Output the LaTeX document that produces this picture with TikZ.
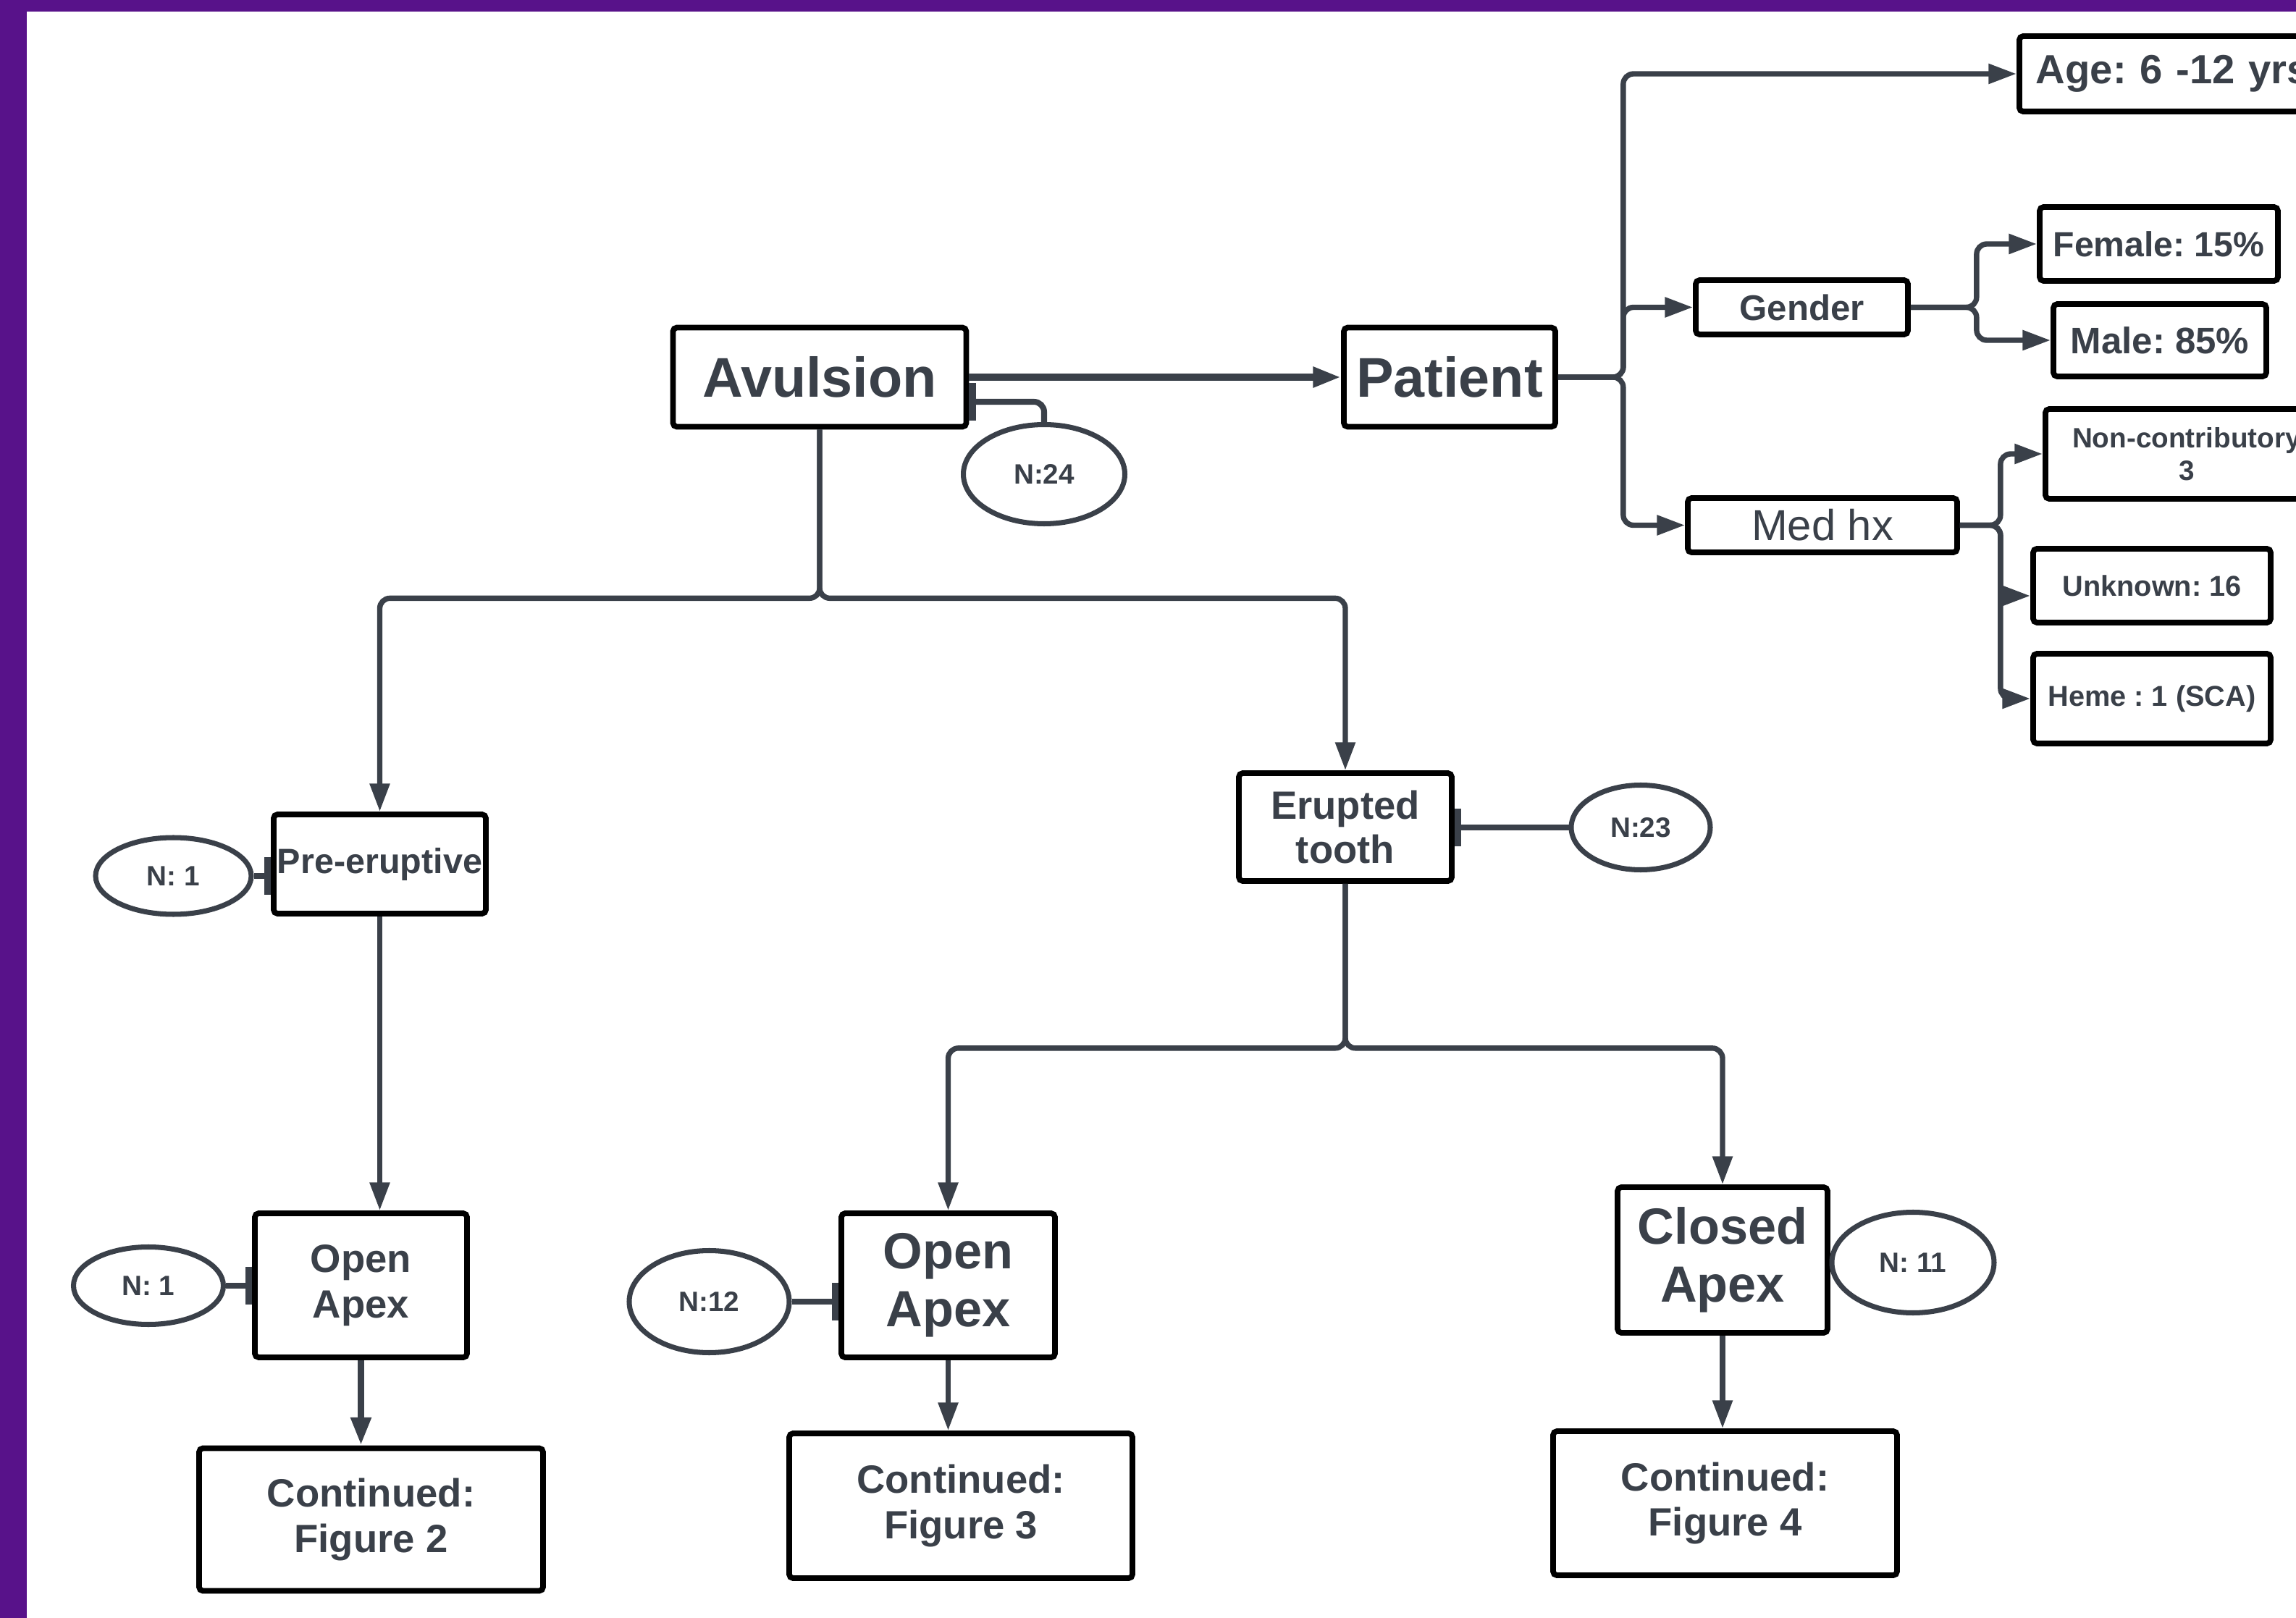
\documentclass[tikz,border=0pt]{standalone}
\usepackage{fontspec}
\setmainfont{Liberation Sans}
\usetikzlibrary{arrows.meta,shapes.geometric}
\definecolor{framepurple}{HTML}{58128A}
\definecolor{inkgray}{HTML}{3A4049}
\newcommand{\fsz}[2]{\fontsize{#1}{#2}\selectfont}
\frenchspacing

\begin{document}
\begin{tikzpicture}[
    box/.style={draw=black, line width=2.2pt, rounded corners=1.5pt, fill=white, text=inkgray, align=center, inner sep=0pt},
    count/.style={ellipse, draw=inkgray, line width=2pt, fill=white, text=inkgray, inner sep=0pt, font=\fsz{11pt}{13pt}\bfseries},
    link/.style={draw=inkgray, line width=2.1pt, rounded corners=4pt, -{Triangle[length=11pt,width=7.5pt]}},
    tee/.style={draw=inkgray, line width=2.3pt, rounded corners=4pt, -{Bar[width=15pt,line width=2.6pt]}},
]
    \useasboundingbox (0,0) rectangle (31.71,-22.35);
    \fill[white] (0,0) rectangle (31.71,-22.35);
    \fill[framepurple] (0,0) rectangle (31.71,-0.16);
    \fill[framepurple] (0,0) rectangle (0.37,-22.35);

    % top row
    \node[box, minimum width=4.05cm, minimum height=1.37cm, font=\fsz{22pt}{25pt}\bfseries] (avulsion) at (11.32,-5.21) {Avulsion};
    \node[box, minimum width=2.92cm, minimum height=1.37cm, font=\fsz{22pt}{25pt}\bfseries] (patient) at (20.02,-5.21) {Patient};
    \node[count, minimum width=2.23cm, minimum height=1.37cm] (n24) at (14.42,-6.55) {N:24};

    % patient details
    \node[box, anchor=west, text width=4.3cm, align=left, inner xsep=0.23cm, minimum height=1.04cm, font=\fsz{16pt}{18pt}\bfseries] (age) at (27.85,-1.02) {Age: 6 -12 yrs};
    \node[box, minimum width=2.93cm, minimum height=0.75cm, font=\fsz{14pt}{16pt}\bfseries] (gender) at (24.885,-4.245) {Gender};
    \node[box, minimum width=3.29cm, minimum height=1.02cm, font=\fsz{13.7pt}{16pt}\bfseries] (female) at (29.815,-3.37) {Female: 15\%};
    \node[box, minimum width=2.94cm, minimum height=1.0cm, font=\fsz{14.5pt}{16pt}\bfseries] (male) at (29.83,-4.70) {Male: 85\%};
    \node[box, minimum width=3.72cm, minimum height=0.75cm, font=\fsz{17pt}{19pt}] (medhx) at (25.17,-7.255) {Med hx};
    \node[box, anchor=west, minimum width=3.9cm, minimum height=1.24cm, font=\fsz{11pt}{12.8pt}\bfseries] (noncontrib) at (28.21,-6.27) {Non-contributory\\3};
    \node[box, minimum width=3.28cm, minimum height=1.02cm, font=\fsz{11.3pt}{13pt}\bfseries] (unknown) at (29.72,-8.09) {Unknown: 16};
    \node[box, minimum width=3.28cm, minimum height=1.24cm, font=\fsz{11.3pt}{13pt}\bfseries] (heme) at (29.72,-9.65) {Heme : 1 (SCA)};

    % tooth branches
    \node[box, minimum width=2.93cm, minimum height=1.37cm, font=\fsz{13.8pt}{16pt}\bfseries] (preerupt) at (5.245,-11.935) {Pre-eruptive};
    \node[count, minimum width=2.15cm, minimum height=1.06cm] (n1top) at (2.395,-12.10) {N: 1};
    \node[box, minimum width=2.94cm, minimum height=1.49cm, font=\fsz{15.5pt}{17.5pt}\bfseries] (erupted) at (18.58,-11.425) {Erupted\\tooth};
    \node[count, minimum width=1.92cm, minimum height=1.17cm] (n23) at (22.66,-11.43) {N:23};

    \node[box, minimum width=2.93cm, minimum height=1.99cm, font=\fsz{15.5pt}{17.8pt}\bfseries] (openl) at (4.985,-17.755) {Open\\Apex};
    \node[count, minimum width=2.07cm, minimum height=1.07cm] (n1low) at (2.05,-17.76) {N: 1};
    \node[box, minimum width=4.75cm, minimum height=1.97cm, font=\fsz{15.5pt}{17.7pt}\bfseries] (fig2) at (5.125,-20.99) {Continued:\\Figure 2};

    \node[box, minimum width=2.95cm, minimum height=1.99cm, font=\fsz{20pt}{22.7pt}\bfseries] (openm) at (13.095,-17.755) {Open\\Apex};
    \node[count, minimum width=2.21cm, minimum height=1.41cm] (n12) at (9.795,-17.98) {N:12};
    \node[box, minimum width=4.74cm, minimum height=2.0cm, font=\fsz{15.5pt}{17.7pt}\bfseries] (fig3) at (13.27,-20.80) {Continued:\\Figure 3};

    \node[box, minimum width=2.90cm, minimum height=2.01cm, font=\fsz{20pt}{22.6pt}\bfseries] (closed) at (23.79,-17.405) {Closed\\Apex};
    \node[count, minimum width=2.24cm, minimum height=1.39cm] (n11) at (26.42,-17.44) {N: 11};
    \node[box, minimum width=4.75cm, minimum height=1.99cm, font=\fsz{15.5pt}{17.7pt}\bfseries] (fig4) at (23.825,-20.765) {Continued:\\Figure 4};

    % connectors
    \draw[link, line width=2.9pt] (avulsion.east) -- (patient.west);
    \draw[tee] (n24.north) |- ([yshift=-0.34cm]avulsion.east);

    \draw[link] (patient.east) -- ++(0.9,0) |- (age.west);
    \draw[link] (patient.east) -- ++(0.9,0) |- (gender.west);
    \draw[link] (patient.east) -- ++(0.9,0) |- (medhx.west);
    \draw[link] (gender.east) -- ++(0.91,0) |- (female.west);
    \draw[link] (gender.east) -- ++(0.91,0) |- (male.west);
    \draw[link] (medhx.east) -- ++(0.56,0) |- (noncontrib.west);
    \draw[link] (medhx.east) -- ++(0.56,0) |- ([yshift=-0.14cm]unknown.west);
    \draw[link] (medhx.east) -- ++(0.56,0) |- (heme.west);

    \draw[link] (avulsion.south) -- ++(0,-2.33) -| (preerupt.north);
    \draw[link] (avulsion.south) -- ++(0,-2.33) -| (erupted.north);
    \draw[tee] (n1top.east) -- (n1top.east -| preerupt.west);
    \draw[tee] (n23.west) -- (n23.west -| erupted.east);

    \draw[link] (preerupt.south) -- (preerupt.south |- openl.north);
    \draw[link] (erupted.south) -- ++(0,-2.27) -| (openm.north);
    \draw[link] (erupted.south) -- ++(0,-2.27) -| (closed.north);
    \draw[tee] (n1low.east) -- (n1low.east -| openl.west);
    \draw[tee] (n12.east) -- (n12.east -| openm.west);

    \draw[link, line width=2.7pt] (openl.south) -- (openl.south |- fig2.north);
    \draw[link] (openm.south) -- (openm.south |- fig3.north);
    \draw[link] (closed.south) -- (closed.south |- fig4.north);
\end{tikzpicture}
\end{document}
